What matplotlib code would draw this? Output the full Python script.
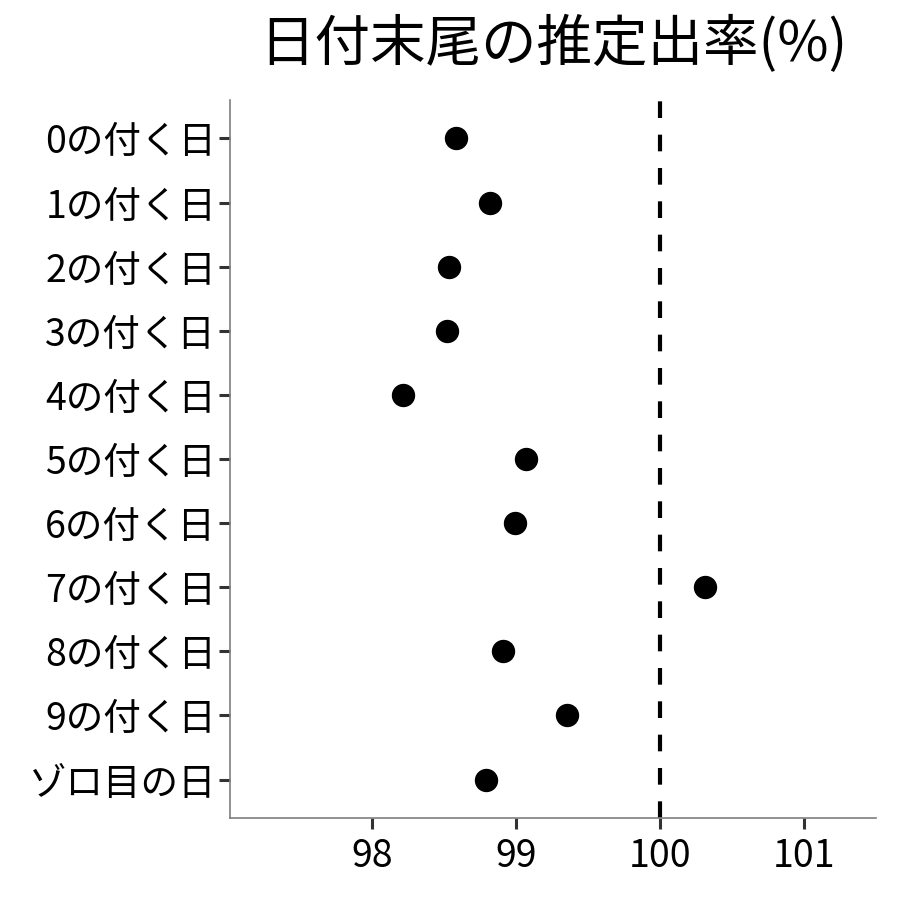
import matplotlib
matplotlib.use("Agg")
import matplotlib.pyplot as plt

plt.rcParams["font.family"] = ["Noto Sans CJK JP", "DejaVu Sans"]

# categories top to bottom, estimated rates (%)
categories = [
    "0の付く日", "1の付く日", "2の付く日", "3の付く日", "4の付く日",
    "5の付く日", "6の付く日", "7の付く日", "8の付く日", "9の付く日",
    "ゾロ目の日",
]
rates = [98.58, 98.82, 98.53, 98.52, 98.21, 99.07, 98.99, 100.31, 98.91, 99.35, 98.79]
x_ticks = [98, 99, 100, 101]
reference = 100

fig = plt.figure(figsize=(9, 9), dpi=100)
ax = fig.add_axes([0.2556, 0.0911, 0.7178, 0.7978])

ypos = list(range(len(categories)))[::-1]
ax.scatter(rates, ypos, s=250, color="black", zorder=3)
ax.axvline(reference, color="black", linewidth=3, dashes=(4, 4), zorder=2)

ax.set_xlim(97.01, 101.50)
ax.set_ylim(-0.6, len(categories) - 0.4)
ax.set_xticks(x_ticks)
ax.set_xticklabels([str(t) for t in x_ticks])
ax.set_yticks(ypos)
ax.set_yticklabels(categories)

ax.tick_params(axis="both", length=8, width=2.2, color="#333333", labelsize=27,
               labelcolor="black")
ax.tick_params(axis="y", pad=2)
ax.tick_params(axis="x", pad=6)
for side in ["top", "right"]:
    ax.spines[side].set_visible(False)
for side in ["left", "bottom"]:
    ax.spines[side].set_color("#7f7f7f")
    ax.spines[side].set_linewidth(1.2)

fig.text(0.6144, 0.95, "日付末尾の推定出率(%)", ha="center", va="center", fontsize=40)

fig.savefig("out.png", dpi=100)
